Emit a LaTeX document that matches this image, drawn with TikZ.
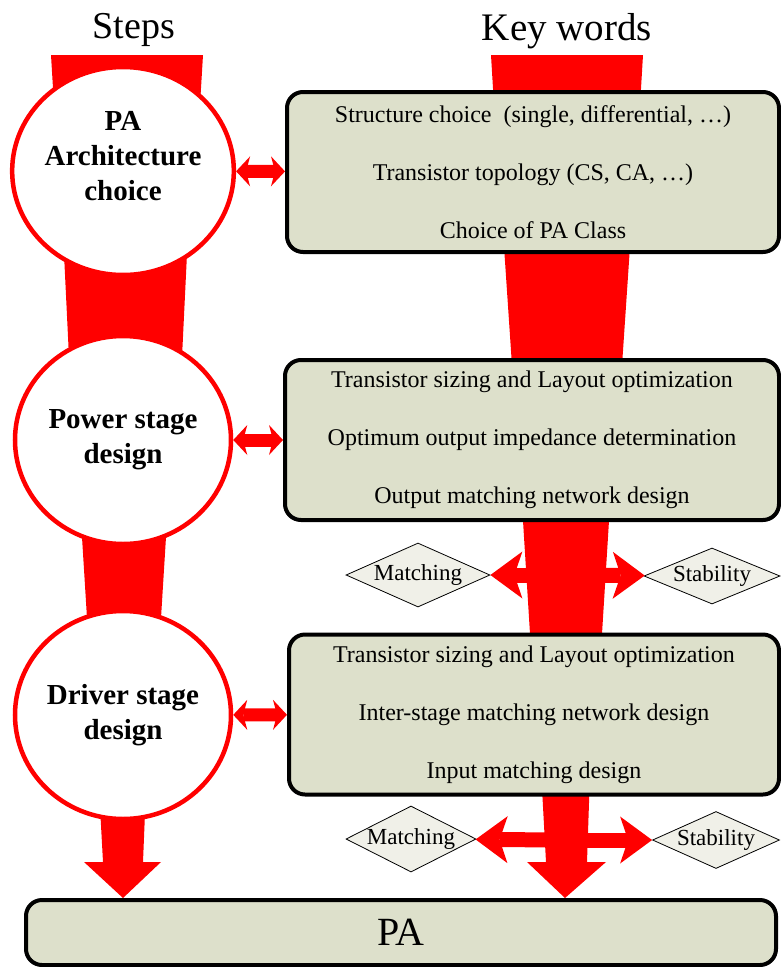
\documentclass[tikz,border=0pt]{standalone}
\usepackage{fontspec}
\setmainfont{Liberation Serif}
\usetikzlibrary{arrows.meta,calc,shapes.geometric,backgrounds}
\definecolor{bandred}{RGB}{255,0,0}
\definecolor{boxfill}{RGB}{221,224,203}
\definecolor{rhombfill}{RGB}{240,240,232}
\tikzset{
  stepnode/.style={ellipse,draw=bandred,line width=4.5pt,fill=white,minimum width=216pt,minimum height=208pt,inner sep=0pt,align=center,font=\bfseries\fontsize{29}{35}\selectfont},
  keybox/.style={draw,line width=4pt,rounded corners=16pt,fill=boxfill,minimum height=160pt,inner sep=0pt,align=center,font=\fontsize{24}{58}\selectfont},
  rhomb/.style={diamond,draw,line width=0.8pt,fill=rhombfill,inner sep=-4pt,font=\fontsize{23}{26}\selectfont},
  band/.style={fill=bandred},
  linkarrow/.style={draw=bandred,line width=13pt,{Stealth[length=14pt,width=30pt,inset=4pt,line width=0pt]}-{Stealth[length=14pt,width=30pt,inset=4pt,line width=0pt]}},
  hubarrow/.style={draw=bandred,line width=15pt,-{Stealth[length=32pt,width=47pt,inset=8pt,line width=0pt]}}
}
\begin{document}
\begin{tikzpicture}[x=1pt,y=-1pt,line join=miter]
\useasboundingbox (0,0) rectangle (781,967);
\clip (0,0) rectangle (781,967);
\node[font=\fontsize{38}{40}\selectfont] (steps) at (134,30) {Steps};
\node[font=\fontsize{39}{40}\selectfont] (keywords) at (567,31) {Key words};
\coordinate (stepsin) at (127,55);
\coordinate (keyin) at (567,55);
\node[stepnode] (arch) at (123,171) {PA\\Architecture\\choice\\[-4pt]\mbox{}};
\node[stepnode] (power) at (123,440) {Power stage\\design};
\node[stepnode] (driver) at (123,715) {Driver stage\\design};
\node[keybox,minimum width=492pt] (box1) at (533,172) {Structure choice\ \ (single, differential, \dots)\\Transistor topology (CS, CA, \dots)\\Choice of PA Class};
\node[keybox,minimum width=494pt] (box2) at (532,440) {Transistor sizing and Layout optimization\\Optimum output impedance determination\\Output matching network design};
\node[keybox,minimum width=490pt] (box3) at (534,714.5) {Transistor sizing and Layout optimization\\Inter-stage matching network design\\Input matching design};
\node[draw,line width=4pt,rounded corners=16pt,fill=boxfill,minimum width=750pt,minimum height=65pt,font=\fontsize{40}{44}\selectfont] (pa) at (401,932.5) {PA};
\node[rhomb,aspect=2.25,minimum width=144pt,minimum height=64pt] (match1) at (418,575) {Matching};
\node[rhomb,aspect=2.43,minimum width=136pt,minimum height=56pt] (stab1) at (712,576) {Stability};
\node[rhomb,aspect=1.97,minimum width=130pt,minimum height=66pt] (match2) at (411,839) {Matching};
\node[rhomb,aspect=2.23,minimum width=127pt,minimum height=57pt] (stab2) at (716,840) {Stability};
\coordinate (hub1) at (566,575);
\coordinate (hub2) at (565,840);
\begin{scope}[on background layer]
\fill[band] ($(stepsin)+(-76,0)$) -- ($(stepsin)+(76,0)$) -- ($(arch)+(73,0)$) -- ($(arch)+(-65,0)$) -- cycle;
\fill[band] ($(arch)+(-63,0)$) -- ($(arch)+(68,0)$) -- ($(power)+(55,0)$) -- ($(power)+(-50,0)$) -- cycle;
\fill[band] ($(power)+(-47,0)$) -- ($(power)+(49,0)$) -- ($(driver)+(32,0)$) -- ($(driver)+(-30,0)$) -- cycle;
\fill[band] ($(driver)+(-28,0)$) -- ($(driver)+(26,0)$) -- ($(driver|-pa.north)+(20,-36)$) -- ($(driver|-pa.north)+(38,-36)$)
  -- (driver|-pa.north) -- ($(driver|-pa.north)+(-39,-36)$) -- ($(driver|-pa.north)+(-20,-36)$) -- cycle;
\fill[band] ($(keyin)+(-76,0)$) -- ($(keyin)+(76,0)$) -- ($(keyin|-box1)+(69,0)$) -- ($(keyin|-box1)+(-69,0)$) -- cycle;
\fill[band] ($(keyin|-box1)+(-68,0)$) -- ($(keyin|-box1)+(68,0)$) -- ($(keyin|-box2)+(50,0)$) -- ($(keyin|-box2)+(-50,0)$) -- cycle;
\fill[band] ($(keyin|-box2)+(-49,0)$) -- ($(keyin|-box2)+(47,0)$) -- ($(keyin|-box3)+(30,0)$) -- ($(keyin|-box3)+(-32,0)$) -- cycle;
\fill[band] ($(keyin|-box3)+(-29,0)$) -- ($(keyin|-box3)+(25,0)$) -- ($(hub2|-pa.north)+(22,-36)$) -- ($(hub2|-pa.north)+(41,-36)$)
  -- (hub2|-pa.north) -- ($(hub2|-pa.north)+(-38,-36)$) -- ($(hub2|-pa.north)+(-19,-36)$) -- cycle;
\end{scope}
\draw[linkarrow] (arch) -- (box1);
\draw[linkarrow] (power) -- (box2);
\draw[linkarrow] (driver) -- (box3);
\draw[hubarrow] (hub1) -- (match1);
\draw[hubarrow] (hub1) -- (stab1);
\draw[hubarrow] (hub2) -- (match2);
\draw[hubarrow] (hub2) -- (stab2);
\end{tikzpicture}
\end{document}
